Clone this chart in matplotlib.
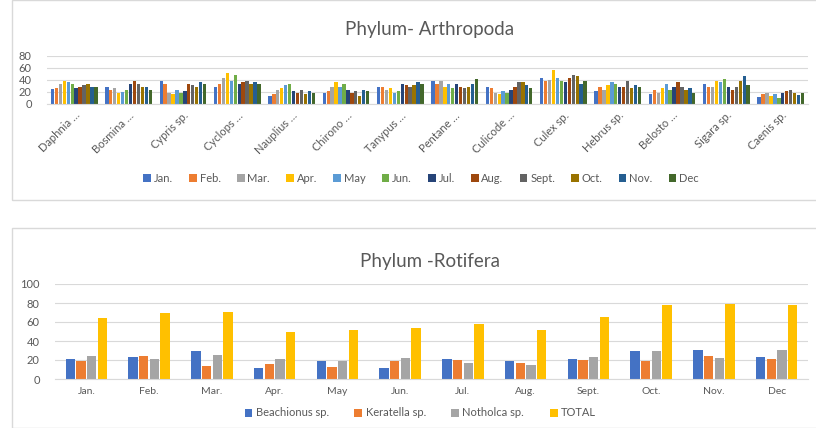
import numpy as np
import matplotlib
matplotlib.use("Agg")
import matplotlib.pyplot as plt
from matplotlib.patches import Rectangle

plt.rcParams["font.family"] = ["Lato", "DejaVu Sans"]

# ---- data: Phylum Arthropoda (monthly counts per taxon) ----
taxa = ["Daphnia …", "Bosmina …", "Cypris sp.", "Cyclops …", "Nauplius …",
        "Chirono …", "Tanypus …", "Pentane …", "Culicode …", "Culex sp.",
        "Hebrus sp.", "Belosto …", "Sigara sp.", "Caenis sp."]
months_a = ["Jan.", "Feb.", "Mar.", "Apr.", "May", "Jun.", "Jul.", "Aug.",
            "Sept.", "Oct.", "Nov.", "Dec"]
daphnia = [25, 26, 34, 39, 36, 34, 26, 29, 31, 34, 29, 28]
bosmina = [29, 24, 26, 18, 20, 24, 34, 39, 34, 29, 28, 24]
cypris = [39, 34, 19, 16, 24, 19, 21, 34, 31, 28, 36, 34]
cyclops = [29, 34, 44, 51, 39, 49, 34, 36, 39, 34, 36, 34]
nauplius = [13, 17, 24, 26, 31, 34, 21, 19, 23, 17, 21, 19]
chirono = [19, 21, 29, 36, 28, 34, 24, 19, 21, 13, 24, 21]
tanypus = [29, 28, 24, 26, 19, 21, 34, 31, 29, 31, 36, 34]
pentane = [39, 34, 38, 29, 34, 26, 33, 29, 26, 29, 34, 42]
culicode = [29, 26, 19, 16, 21, 19, 24, 29, 36, 36, 31, 26]
culex = [44, 39, 40, 56, 44, 39, 36, 44, 49, 46, 34, 38]
hebrus = [21, 29, 24, 31, 36, 34, 29, 28, 39, 26, 31, 29]
belosto = [16, 24, 19, 26, 34, 24, 29, 36, 29, 24, 26, 19]
sigara = [34, 29, 29, 39, 36, 41, 29, 24, 29, 39, 46, 31]
caenis = [12, 16, 19, 13, 16, 10, 18, 21, 24, 19, 15, 18]
arthropoda = [daphnia, bosmina, cypris, cyclops, nauplius, chirono, tanypus,
              pentane, culicode, culex, hebrus, belosto, sigara, caenis]

# ---- data: Phylum Rotifera ----
months_r = ["Jan.", "Feb.", "Mar.", "Apr.", "May", "Jun.", "Jul.", "Aug.",
            "Sept.", "Oct.", "Nov.", "Dec"]
rot_series = ["Beachionus sp.", "Keratella sp.", "Notholca sp.", "TOTAL"]
beachionus = [21, 23, 30, 12, 19, 12, 21, 19, 21.5, 29, 30.5, 23]
keratella = [19, 24, 14, 16, 13, 19, 20, 17, 20, 19, 24, 21.5]
notholca = [24, 21, 25, 21, 19, 22, 17, 14.5, 23, 29.5, 22, 31]
total = [64, 70, 71, 49, 52, 53.5, 58, 52, 65, 78, 79, 78]

month_colors = ["#4472C4", "#ED7D31", "#A5A5A5", "#FFC000", "#5B9BD5", "#70AD47",
                "#264478", "#9E480E", "#636363", "#997300", "#255E91", "#43682B"]
rot_colors = ["#4472C4", "#ED7D31", "#A5A5A5", "#FFC000"]

TXT = "#595959"
GRID = "#d9d9d9"

fig = plt.figure(figsize=(8.16, 4.28), dpi=100)

# chart frames
fig.patches.append(Rectangle((12 / 816, 1 - 200 / 428), 0.99, 200 / 428,
                             transform=fig.transFigure, fill=False,
                             edgecolor=GRID, linewidth=1))
fig.patches.append(Rectangle((12 / 816, 0.0), 0.99, 1 - 228 / 428,
                             transform=fig.transFigure, fill=False,
                             edgecolor=GRID, linewidth=1))


def style_axes(ax):
    for s in ["top", "right", "left"]:
        ax.spines[s].set_visible(False)
    ax.spines["bottom"].set_color(GRID)
    ax.yaxis.grid(True, color=GRID, linewidth=0.8)
    ax.set_axisbelow(True)
    ax.tick_params(axis="both", length=0, colors=TXT, labelsize=7.5)
    ax.tick_params(axis="y", pad=11, labelsize=8)


# ---- top chart ----
ax1 = fig.add_axes([47 / 816, 1 - 104 / 428, 761 / 816, 48 / 428])
data = np.array(arthropoda)
x = np.arange(len(taxa))
slot = 0.87 / 12
for i, (m, c) in enumerate(zip(months_a, month_colors)):
    ax1.bar(x - 0.435 + slot * (i + 0.5), data[:, i], width=slot * 0.85,
            color=c, label=m)
ax1.set_xlim(-0.5, len(taxa) - 0.5)
ax1.set_ylim(0, 80)
ax1.set_yticks([0, 20, 40, 60, 80])
ax1.set_xticks(x)
ax1.set_xticklabels(taxa, rotation=45, ha="right", rotation_mode="anchor")
style_axes(ax1)
ax1.tick_params(axis="x", pad=4, labelsize=8)
fig.text(0.527, 1 - 30 / 428, "Phylum- Arthropoda", ha="center", va="center",
         fontsize=13.5, color=TXT)
fig.legend(*ax1.get_legend_handles_labels(), loc="center",
           bbox_to_anchor=(0.516, 1 - 178 / 428), ncol=12, frameon=False,
           fontsize=8, labelcolor=TXT, handlelength=0.7, handleheight=0.7,
           handletextpad=0.25, columnspacing=1.45)

# ---- bottom chart ----
ax2 = fig.add_axes([55 / 816, 1 - 379 / 428, 753 / 816, 95 / 428])
rot = [beachionus, keratella, notholca, total]
x2 = np.arange(len(months_r))
slot2 = 0.68 / 4
for i, (name, vals, c) in enumerate(zip(rot_series, rot, rot_colors)):
    ax2.bar(x2 - 0.34 + slot2 * (i + 0.5), vals, width=slot2 * 0.87,
            color=c, label=name)
ax2.set_xlim(-0.5, len(months_r) - 0.5)
ax2.set_ylim(0, 100)
ax2.set_yticks([0, 20, 40, 60, 80, 100])
ax2.set_xticks(x2)
ax2.set_xticklabels(months_r)
style_axes(ax2)
ax2.tick_params(axis="x", pad=6)
fig.text(0.527, 1 - 262 / 428, "Phylum -Rotifera", ha="center", va="center",
         fontsize=13.5, color=TXT)
fig.legend(*ax2.get_legend_handles_labels(), loc="center",
           bbox_to_anchor=(0.515, 1 - 413 / 428), ncol=4, frameon=False,
           fontsize=8, labelcolor=TXT, handlelength=0.7, handleheight=0.7,
           handletextpad=0.3, columnspacing=2.3)

fig.savefig("out.png", dpi=100)
